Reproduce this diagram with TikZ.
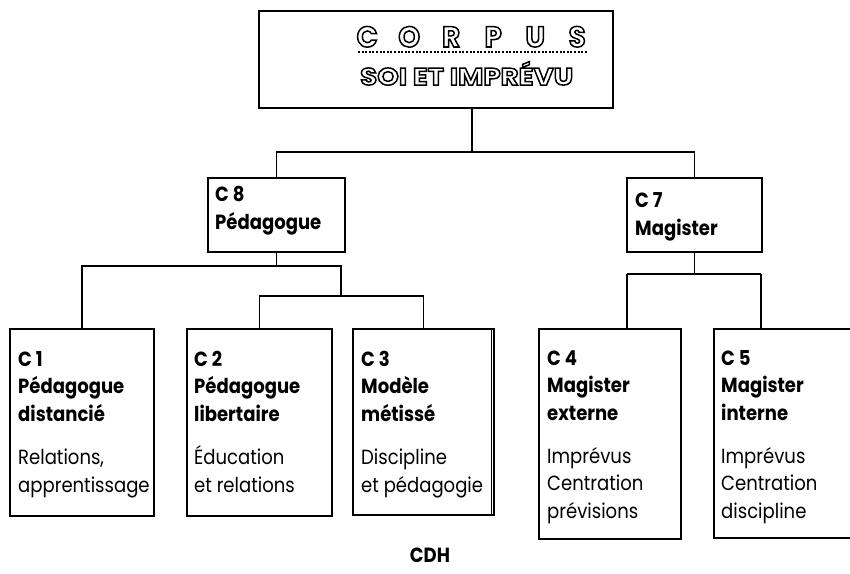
\documentclass[tikz,border=0pt]{standalone}
\usepackage{fontspec}
\setmainfont{Poppins}[FakeStretch=0.88]
\newfontfamily\titlefont{Poppins}[FakeStretch=1.15]
\newfontfamily\titlefontb{Poppins}[FakeStretch=0.95]
\newcommand\hollowtext[1]{\special{pdf:code 1 Tr 1.5 w}#1\special{pdf:code 0 Tr}}
\begin{document}
\begin{tikzpicture}[x=1pt,y=-1pt,
  box/.style={draw=black, line width=1.8pt, rectangle, inner sep=0pt, anchor=north west},
  wire/.style={draw=black, line width=1.8pt},
  btxt/.style={anchor=base west, inner sep=0pt, align=left, font=\fontsize{20.5}{27.5}\selectfont\bfseries},
  rtxt/.style={anchor=base west, inner sep=0pt, align=left, font=\fontsize{20.5}{27.5}\selectfont},
  ttl/.style={anchor=base west, inner sep=0pt}
]
\useasboundingbox (0,0) rectangle (850,573);
\fill[white] (0,0) rectangle (850,573);
% boxes
\node[box, minimum width=354, minimum height=97] (top) at (258,10) {};
\node[box, minimum width=137, minimum height=74] (c8) at (207,177) {};
\node[box, minimum width=135, minimum height=74] (c7) at (626,177) {};
\node[box, minimum width=144, minimum height=187] (c1) at (9,328) {};
\node[box, minimum width=145, minimum height=187] (c2) at (186,328) {};
\node[box, minimum width=141, minimum height=186] (c3) at (352,328) {};
\node[box, minimum width=142, minimum height=210] (c4) at (538,328) {};
\node[box, minimum width=142, minimum height=209] (c5) at (713,328) {};
\draw[line width=0.8pt] ([xshift=-3.5pt]c3.north east) -- ([xshift=-3.5pt]c3.south east);
% title
\node[ttl, font=\titlefontb\bfseries\fontsize{29}{29}\selectfont] (t1) at (346,47) {\hollowtext{\makebox[42pt]{C}\makebox[42pt]{O}\makebox[42pt]{R}\makebox[42pt]{P}\makebox[42pt]{U}\makebox[42pt]{S}}};
\draw[line width=1.2pt, dash pattern=on 2pt off 1.6pt] (358,52) -- (587,52);
\node[ttl, font=\titlefont\bfseries\fontsize{24}{24}\selectfont] (t2) at (360,85) {\hollowtext{SOI ET IMPRÉVU}};
% connectors
\coordinate (j0) at (472,152);
\draw[wire] (top.south -| j0) -- (j0);
\draw[wire] (c8.north) |- (j0) -| (c7.north);
\coordinate (j1) at (341,266);
\coordinate (j2) at (341,296);
\draw[wire] (c8.south) -- (c8.south |- j1);
\draw[wire] (c1.north) |- (j1) -- (j2);
\draw[wire] (c2.north) |- (j2) -| (c3.north);
\coordinate (k1) at (627,274);
\coordinate (k2) at (761,274);
\draw[wire] (c7.south) -- (c7.south |- k1);
\draw[wire] (k1) -- (k2);
\draw[wire] (k1) -- (k1 |- c4.north);
\draw[wire] (k2) -- (k2 |- c5.north);
% texts (anchor = baseline of last line)
\node[btxt] (c8a) at (215,229) {C 8\\Pédagogue};
\node[btxt] (c7a) at (635,235) {C 7\\Magister};
\node[btxt] (c1a) at (18,421) {C 1\\Pédagogue\\distancié};
\node[rtxt] (c1b) at (18,492) {Relations,\\apprentissage};
\node[btxt] (c2a) at (194,421) {C 2\\Pédagogue\\libertaire};
\node[rtxt] (c2b) at (194,492) {Éducation\\et relations};
\node[btxt] (c3a) at (361,421) {C 3\\Modèle\\métissé};
\node[rtxt] (c3b) at (361,492) {Discipline\\et pédagogie};
\node[btxt] (c4a) at (547,420) {C 4\\Magister\\externe};
\node[rtxt] (c4b) at (547,518) {Imprévus\\Centration\\prévisions};
\node[btxt] (c5a) at (721,420) {C 5\\Magister\\interne};
\node[rtxt] (c5b) at (721,518) {Imprévus\\Centration\\discipline};
\node[btxt, anchor=base] (cdh) at (430,562) {CDH};
\end{tikzpicture}
\end{document}
